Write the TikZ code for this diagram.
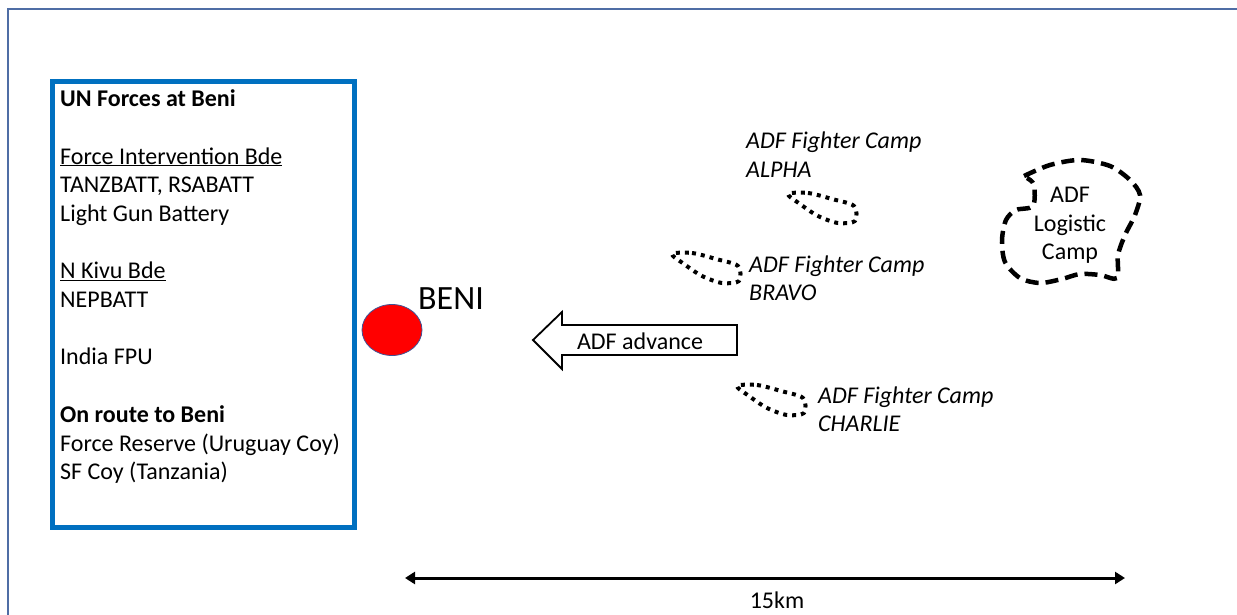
\documentclass[tikz,border=0pt]{standalone}
\usepackage{fontspec}
\setmainfont{Carlito}
\usetikzlibrary{arrows.meta,shapes.geometric}
\definecolor{framec}{RGB}{79,109,165}
\definecolor{unblue}{RGB}{0,112,192}
\definecolor{rimc}{RGB}{63,83,150}
\begin{document}
\begin{tikzpicture}[x=1pt,y=-1pt,
  txt/.style={inner sep=0pt, font=\fontsize{24}{28.7}\selectfont},
  camptxt/.style={inner sep=0pt, align=left, anchor=base west, font=\fontsize{24}{28.7}\selectfont\itshape},
  camp/.style={line width=4pt, dash pattern=on 4pt off 5pt, line join=round},
  logi/.style={line width=4.5pt, dash pattern=on 13pt off 7pt},
  ]
\useasboundingbox (0,0) rectangle (1237,615);
\fill[white] (0,0) rectangle (1237,615);
\draw[line width=2pt, framec] (8,620) -- (8,9) -- (1240,9);

% UN box
\node[draw=unblue, line width=5pt, minimum width=302pt, minimum height=446pt,
      anchor=north west, inner sep=0pt] (unbox) at (50,79) {};
\node[txt, align=left, anchor=base west] (untext) at (60,479.7) {%
\textbf{UN Forces at Beni}\\[28.7pt]
\underline{Force Intervention Bde}\\
TANZBATT, RSABATT\\
Light Gun Battery\\[28.7pt]
\underline{N Kivu Bde}\\
NEPBATT\\[28.7pt]
India FPU\\[28.7pt]
\textbf{On route to Beni}\\
Force Reserve (Uruguay Coy)\\
SF Coy (Tanzania)};

% Beni
\node[ellipse, fill=red, draw=rimc, line width=0.8pt, minimum width=60pt,
      minimum height=51pt, inner sep=0pt] (beni) at (392,330) {};
\node[inner sep=0pt, anchor=base west, font=\fontsize{34}{40}\selectfont] (benilbl) at (418,309) {BENI};

% ADF advance arrow
\draw[line width=1.8pt, fill=white, line join=miter]
  (533,340) -- (562,312) -- (562,325) -- (737,325) -- (737,355) -- (562,355) -- (562,369) -- cycle;
\node[txt] (adv) at (640,341) {ADF advance};

% fighter camps
\foreach \dx/\dy in {116/-60, 0/0, 65/132}{
  \draw[camp, shift={(\dx,\dy)}] plot[smooth cycle, tension=0.5] coordinates
    {(672,254) (692,253) (716,259) (738,266) (739,281) (722,283) (702,276) (684,264)};
}
\node[camptxt] (alpha) at (746,177.7) {ADF Fighter Camp\\ALPHA};
\node[camptxt] (bravo) at (749,300.7) {ADF Fighter Camp\\BRAVO};
\node[camptxt] (charlie) at (818,431.7) {ADF Fighter Camp\\CHARLIE};

% logistic camp
\draw[logi] plot[smooth, tension=0.5] coordinates
  {(1024,176) (1050,165) (1080,160) (1110,166) (1130,180) (1140,195) (1135,215)
   (1125,235) (1118,255) (1117,278) (1100,275) (1080,274) (1062,279) (1040,283)
   (1020,278) (1005,262) (1002,240) (1006,220) (1016,210) (1033,206) (1034,185) (1027,178)};
\node[txt, align=center, anchor=base] (logtxt) at (1070,259.7) {ADF\\Logistic\\Camp};

% scale bar
\coordinate (sL) at (405,578);
\coordinate (sR) at (1125,578);
\draw[line width=3pt, {Triangle[length=10pt,width=12pt]}-{Triangle[length=10pt,width=12pt]}] (sL) -- (sR);
\node[txt, anchor=base] (km) at (777,608.7) {15km};
\end{tikzpicture}
\end{document}
